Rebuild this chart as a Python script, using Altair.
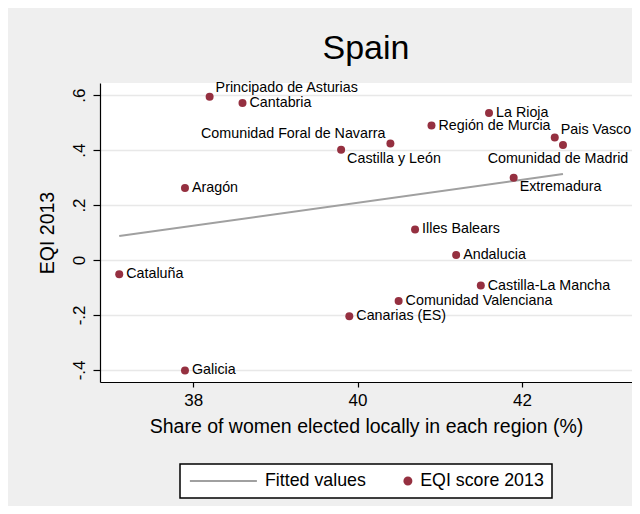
import altair as alt
import pandas as pd

regions = ["Cataluña", "Galicia", "Aragón", "Principado de Asturias", "Cantabria",
           "Castilla y León", "Comunidad Foral de Navarra", "Canarias (ES)",
           "Comunidad Valenciana", "Illes Balears", "Región de Murcia", "Andalucia",
           "Castilla-La Mancha", "La Rioja", "Extremadura", "Pais Vasco",
           "Comunidad de Madrid"]
share = [37.10, 37.90, 37.90, 38.20, 38.60, 39.80, 40.40, 39.90, 40.50, 40.70,
         40.90, 41.20, 41.50, 41.60, 41.90, 42.40, 42.50]
eqi = [-0.052, -0.402, 0.262, 0.594, 0.571, 0.401, 0.424, -0.205, -0.149, 0.111,
       0.489, 0.018, -0.093, 0.535, 0.299, 0.446, 0.418]

x_ticks = [38, 40, 42]
y_ticks = [-0.4, -0.2, 0, 0.2, 0.4, 0.6]
series_names = ["Fitted values", "EQI score 2013"]

# label placement groups (clock positions as in the original)
upper_right = ["Principado de Asturias"]
slight_up = ["Pais Vasco"]
lower_right = ["Castilla y León", "Extremadura"]
upper_left = ["Comunidad Foral de Navarra"]
below = ["Comunidad de Madrid"]
special = upper_right + slight_up + lower_right + upper_left + below

df = pd.DataFrame({"region": regions, "share": share, "eqi": eqi})

FONT = "Liberation Sans"
MAROON = "#953040"
GREY = "#a0a0a0"

x_enc = alt.X("share:Q", scale=alt.Scale(domain=[36.866, 43.34], nice=False, zero=False),
              axis=alt.Axis(values=x_ticks, format="d", grid=False,
                            title="Share of women elected locally in each region (%)",
                            tickSize=5, labelPadding=5, titlePadding=9))
y_enc = alt.Y("eqi:Q", scale=alt.Scale(domain=[-0.444, 0.644], nice=False, zero=False),
              axis=alt.Axis(values=y_ticks, grid=True, title="EQI 2013",
                            labelAngle=-90, tickSize=7, labelPadding=5, titlePadding=13,
                            labelExpr="datum.value == 0 ? '0' : (datum.value < 0 ? '-' : '') + substring(format(abs(datum.value), '.1f'), 1)"))

base = alt.Chart(df)

fit = base.transform_regression("share", "eqi").mark_line(
    color=GREY, strokeWidth=2).encode(x=x_enc, y=y_enc)

pts = base.mark_circle(size=64, color=MAROON, opacity=1).encode(x=x_enc, y=y_enc)

def lbl(names, **kw):
    return base.transform_filter(
        alt.FieldOneOfPredicate(field="region", oneOf=names)
    ).mark_text(font=FONT, fontSize=14.3, color="black", **kw).encode(
        x=x_enc, y=y_enc, text="region:N")

std_names = [r for r in regions if r not in special]
labels = [
    lbl(std_names, align="left", baseline="middle", dx=7),
    lbl(upper_right, align="left", baseline="alphabetic", dx=6, dy=-5),
    lbl(slight_up, align="left", baseline="alphabetic", dx=6, dy=-3),
    lbl(lower_right, align="left", baseline="alphabetic", dx=6, dy=13),
    lbl(upper_left, align="right", baseline="alphabetic", dx=-5, dy=-5),
    lbl(below, align="center", baseline="alphabetic", dx=-5, dy=18),
]

line_path = "M-1,-0.143H8.571V0.143H-1Z"
dot_path = "M5.357,0A0.643,0.643,0,1,1,4.071,0A0.643,0.643,0,1,1,5.357,0Z"

leg = alt.Legend(title=None, orient="none", legendX=80, legendY=381,
                 direction="horizontal", fillColor="white", strokeColor="black",
                 padding=8, columnPadding=0, labelFontSize=17.8, labelFont=FONT,
                 labelColor="black", labelAlign="right", labelOffset=160,
                 symbolSize=196, symbolStrokeWidth=0, symbolOpacity=1)

legend_layer = base.transform_calculate(series="'EQI score 2013'").transform_filter(
    "false").mark_point(filled=True, opacity=1).encode(
    x=x_enc, y=y_enc,
    color=alt.Color("series:N", scale=alt.Scale(domain=series_names, range=[GREY, MAROON]), legend=leg),
    shape=alt.Shape("series:N", scale=alt.Scale(domain=series_names, range=[line_path, dot_path]), legend=leg),
)

chart = alt.layer(fit, pts, *labels, legend_layer).properties(
    width=532, height=299,
    title=alt.TitleParams("Spain", fontSize=34, font=FONT, fontWeight="normal",
                          color="black", anchor="middle", offset=15),
    autosize=alt.AutoSizeParams(type="none"),
    padding={"left": 92, "top": 75, "right": 0, "bottom": 124},
).configure(background="#efefef").configure_view(
    fill="white", stroke=None
).configure_axis(
    domainColor="black", domainWidth=1.2, tickColor="black", tickWidth=1.2,
    labelFont=FONT, labelFontSize=17, labelColor="black",
    titleFont=FONT, titleFontSize=19.5, titleColor="black", titleFontWeight="normal",
    gridColor="#e8e8e8", gridWidth=1.5
).configure_legend(strokeWidth=1.5)

chart.save("out.html", embed_options={"renderer": "svg", "actions": False})
